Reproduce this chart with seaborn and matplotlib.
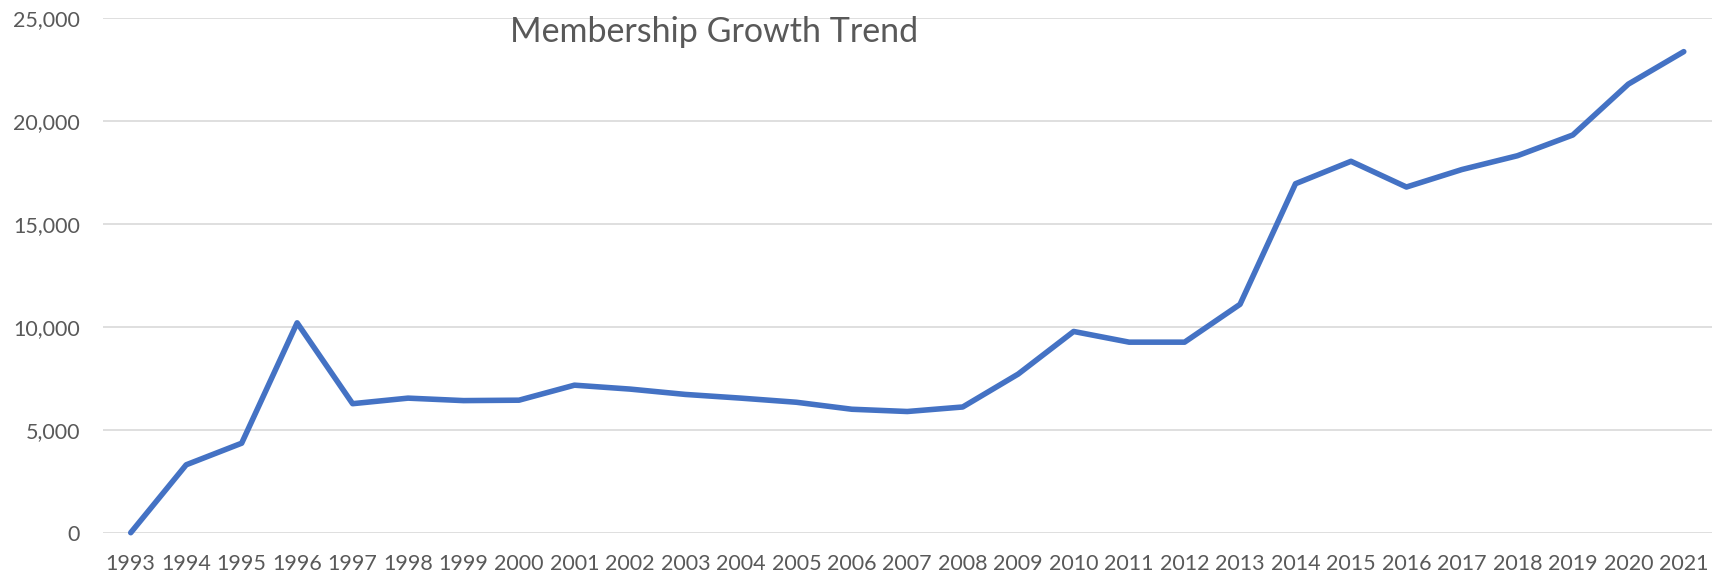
import matplotlib
matplotlib.use("Agg")
import matplotlib.pyplot as plt
import matplotlib.ticker as mticker
import pandas as pd
import seaborn as sns

# Yearly membership counts
years = list(range(1993, 2022))
members = [0, 3300, 4350, 10200, 6270, 6540, 6420, 6440, 7170, 6980,
           6720, 6540, 6340, 6000, 5890, 6110, 7710, 9780, 9260, 9260,
           11100, 16960, 18050, 16800, 17650, 18320, 19330, 21800, 23380]
y_ticks = [0, 5000, 10000, 15000, 20000, 25000]
chart_title = "Membership Growth Trend"

sns.set_theme(style="white")
plt.rcParams["font.family"] = ["Lato", "DejaVu Sans"]

df = pd.DataFrame({"Year": years, "Members": members})

fig = plt.figure(figsize=(17.13, 5.75), dpi=100)
ax = fig.add_axes([103 / 1713, 1 - 532.7 / 575, (1711.5 - 103) / 1713, (532.7 - 18.3) / 575])

sns.lineplot(data=df, x="Year", y="Members", ax=ax, color="#4472C4",
             linewidth=4.0, solid_capstyle="round", solid_joinstyle="round",
             zorder=3, clip_on=False)

ax.set_xlim(years[0] - 0.5, years[-1] + 0.5)
ax.set_ylim(y_ticks[0], y_ticks[-1])
ax.set_xticks(years)
ax.set_xticklabels([str(y) for y in years])
ax.set_yticks(y_ticks)
ax.yaxis.set_major_formatter(mticker.FuncFormatter(lambda v, _: f"{int(v):,}"))

ax.grid(axis="y", color="#D9D9D9", linewidth=1.2, zorder=0)
ax.grid(axis="x", visible=False)
for side in ax.spines.values():
    side.set_visible(False)
ax.tick_params(axis="both", length=0, labelsize=15.5, labelcolor="#595959")
ax.tick_params(axis="y", pad=16.5)
ax.tick_params(axis="x", pad=15)
ax.set_xlabel("")
ax.set_ylabel("")

fig.text(714 / 1713, 1 - 32 / 575, chart_title, ha="center", va="center",
         fontsize=24.5, color="#595959")

fig.savefig("out.png", dpi=100, facecolor="white")
